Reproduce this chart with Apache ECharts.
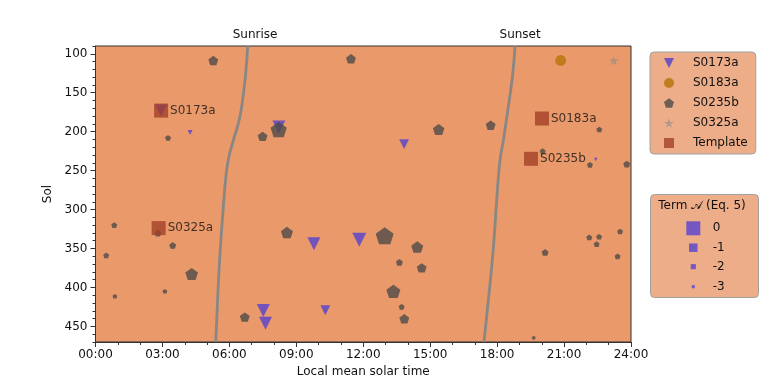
<!DOCTYPE html>
<html>
<head>
<meta charset="utf-8">
<script src="https://cdn.jsdelivr.net/npm/echarts@6/dist/echarts.min.js"></script>
<style>html,body{margin:0;padding:0;background:#fff}#c{width:768px;height:384px}</style>
</head>
<body>
<div id="c"></div>
<script>
// ---- data ----
const xTickLabels = ['00:00','03:00','06:00','09:00','12:00','15:00','18:00','21:00','24:00'];
const yTickValues = [100,150,200,250,300,350,400,450];
const topLabels = ['Sunrise','Sunset'];
const topLabelTimes = [7.15, 19.03];

const sunriseSol  = [90, 125.6, 168.3, 189.5, 210.9, 232.2, 253.5, 296.2, 338.8, 381.3, 424.0, 470];
const sunriseTime = [6.82, 6.73, 6.55, 6.40, 6.18, 5.98, 5.86, 5.73, 5.62, 5.53, 5.46, 5.39];
const sunsetSol   = [90, 125.6, 168.3, 210.9, 232.2, 253.5, 296.2, 338.8, 381.3, 424.0, 470];
const sunsetTime  = [18.80, 18.70, 18.50, 18.28, 18.15, 18.07, 17.96, 17.86, 17.73, 17.58, 17.41];

const s0173aTime = [2.94, 4.24, 8.22, 13.83, 9.79, 11.82, 7.52, 7.62, 10.30, 22.42];
const s0173aSol  = [172.9, 201.0, 193.9, 216.0, 343.9, 338.8, 429.6, 445.8, 429.2, 235.6];
const s0173aTerm = [-0.3, -2.1, -0.15, -0.7, -0.15, 0.0, -0.15, -0.15, -0.7, -2.8];

const s0183aTime = [20.85];
const s0183aSol  = [108.6];
const s0183aTerm = [-0.5];

const s0235bTime = [5.28, 3.25, 7.49, 11.45, 8.21, 15.38, 17.71, 22.58, 20.04, 22.16, 23.81, 22.13, 22.57, 22.46, 23.51, 23.40, 20.15, 19.64, 0.84, 2.80, 3.46, 0.48, 4.31, 0.87, 3.11, 6.69, 8.58, 12.96, 14.42, 13.62, 14.62, 13.35, 13.72, 13.84];
const s0235bSol  = [108.6, 207.9, 206.1, 106.4, 197.2, 197.2, 191.7, 197.2, 224.9, 242.5, 241.6, 335.8, 334.9, 344.3, 328.1, 360.1, 355.0, 464.5, 320.0, 330.2, 346.0, 358.8, 382.6, 411.3, 404.9, 438.1, 329.4, 333.6, 348.1, 367.8, 374.9, 404.9, 424.8, 440.2];
const s0235bTerm = [-0.7, -1.7, -0.7, -0.7, 0.3, -0.4, -0.7, -1.7, -1.7, -1.7, -1.4, -1.7, -1.7, -1.7, -1.7, -1.7, -1.4, -2.5, -1.7, -1.4, -1.4, -1.7, -0.2, -2.1, -2.1, -0.7, -0.3, 0.5, -0.3, -1.4, -0.7, 0.0, -1.7, -0.7];

const s0325aTime = [23.23];
const s0325aSol  = [108.6];
const s0325aTerm = [-0.7];

const templateNames = ['S0173a', 'S0183a', 'S0235b', 'S0325a'];
const templateTime  = [2.94, 20.01, 19.52, 2.83];
const templateSol   = [172.9, 183.1, 234.8, 323.8];

const termLegendValues = [0, -1, -2, -3];
const termLegendLabels = ['0', '-1', '-2', '-3'];

// ---- styling helpers ----
const FONT = 'DejaVu Sans';
const sizeOf = a => 14 * Math.pow(1.65, a);
const TRI = 'path://M0,0L2,0L1,2Z';
const PENT = 'path://M0,-1L0.951,-0.309L0.588,0.809L-0.588,0.809L-0.951,-0.309Z';
const STAR = 'path://M0,-1L0.2245,-0.309L0.951,-0.309L0.3633,0.118L0.588,0.809L0,0.382L-0.588,0.809L-0.3633,0.118L-0.951,-0.309L-0.2245,-0.309Z';
const SQ = 'path://M0,0L1,0L1,1L0,1Z';
const PURPLE = '#6b4fc0';

const zip3 = (t, s, a) => t.map((v, i) => [v, s[i], a[i]]);
const zip2 = (t, s) => t.map((v, i) => [v, s[i]]);

const chart = echarts.init(document.getElementById('c'), null, {renderer: 'canvas'});

// size-legend graphics
const GX = 693.3, TX = 712.7, rowY = [228.3, 247.7, 266.7, 286.7];
const legendGraphics = [
  {type: 'rect', shape: {x: 650.5, y: 194.5, width: 108, height: 103, r: 4},
   style: {fill: '#edad88', stroke: '#a0a0a0', lineWidth: 1}, z: 100},
  {type: 'text', x: 702, y: 206, z: 101,
   style: {text: 'Term \u{1D49C} (Eq. 5)', align: 'center', verticalAlign: 'middle',
           font: '12px "DejaVu Sans", "DejaVu Serif", "Noto Sans", sans-serif', fill: '#111'}}
];
termLegendValues.forEach((a, i) => {
  const s = sizeOf(a);
  legendGraphics.push({type: 'rect', z: 101, shape: {x: GX - s / 2, y: rowY[i] - s / 2, width: s, height: s},
    style: {fill: '#7557c4'}});
  legendGraphics.push({type: 'text', x: TX, y: rowY[i], z: 101,
    style: {text: termLegendLabels[i], align: 'left', verticalAlign: 'middle', font: '12px "DejaVu Sans"', fill: '#111'}});
});

const option = {
  backgroundColor: '#ffffff',
  animation: false,
  textStyle: {fontFamily: FONT},
  grid: {left: 95.5, right: 137, top: 46, bottom: 42, show: true,
         backgroundColor: '#e9996a', borderColor: '#333', borderWidth: 1},
  xAxis: [
    {type: 'value', min: 0, max: 24, interval: 3, position: 'bottom',
     name: 'Local mean solar time', nameLocation: 'middle', nameGap: 24,
     nameTextStyle: {fontFamily: FONT, fontSize: 12, color: '#111'},
     axisLine: {show: true, lineStyle: {color: '#333', width: 1}},
     axisTick: {show: true, length: 5, lineStyle: {color: '#333'}},
     minorTick: {show: true, splitNumber: 3, length: 3, lineStyle: {color: '#333'}},
     splitLine: {show: false},
     axisLabel: {margin: 7, fontFamily: FONT, fontSize: 12, color: '#111',
                 formatter: v => xTickLabels[Math.round(v / 3)]}},
    {type: 'value', min: 0, max: 24, position: 'top',
     axisLine: {show: false}, axisTick: {show: false}, splitLine: {show: false},
     axisLabel: {show: true, margin: 5, fontFamily: FONT, fontSize: 12, color: '#111',
                 customValues: topLabelTimes,
                 formatter: v => topLabels[topLabelTimes.indexOf(v)]}}
  ],
  yAxis: [
    {type: 'value', min: 90, max: 470, inverse: true, position: 'left',
     name: 'Sol', nameLocation: 'middle', nameGap: 41, nameRotate: 90,
     nameTextStyle: {fontFamily: FONT, fontSize: 12, color: '#111'},
     axisLine: {show: true, lineStyle: {color: '#333', width: 1}},
     axisTick: {show: true, length: 5, customValues: yTickValues, lineStyle: {color: '#333'}},
     splitLine: {show: false},
     axisLabel: {margin: 8, fontFamily: FONT, fontSize: 12, color: '#111', customValues: yTickValues}},
    {type: 'value', min: 90, max: 470, interval: 10, inverse: true, position: 'left',
     axisLine: {show: false}, axisLabel: {show: false}, splitLine: {show: false},
     axisTick: {show: true, length: 3, lineStyle: {color: '#333'}}}
  ],
  legend: {
    orient: 'vertical', left: 650, top: 52,
    padding: [5, 8, 5, 14], itemWidth: 10, itemHeight: 10, itemGap: 8,
    backgroundColor: '#edad88', borderColor: '#a0a0a0', borderWidth: 1, borderRadius: 4,
    selectedMode: false, symbolKeepAspect: true,
    textStyle: {fontFamily: FONT, fontSize: 12, color: '#111', padding: [0, 0, 0, 14], lineHeight: 12},
    data: [
      {name: 'S0173a', icon: TRI},
      {name: 'S0183a', icon: 'circle'},
      {name: 'S0235b', icon: PENT},
      {name: 'S0325a', icon: STAR},
      {name: 'Template', icon: SQ}
    ]
  },
  graphic: legendGraphics,
  series: [
    {name: 'sunrise', type: 'line', data: zip2(sunriseTime, sunriseSol), smooth: 0.5,
     showSymbol: false, symbol: 'none', z: 1, silent: true,
     lineStyle: {color: '#8a8684', width: 2.8}},
    {name: 'sunset', type: 'line', data: zip2(sunsetTime, sunsetSol), smooth: 0.5,
     showSymbol: false, symbol: 'none', z: 1, silent: true,
     lineStyle: {color: '#8a8684', width: 2.8}},
    {name: 'S0173a', type: 'scatter', data: zip3(s0173aTime, s0173aSol, s0173aTerm), z: 2,
     symbol: TRI, symbolSize: v => sizeOf(v[2]),
     itemStyle: {color: PURPLE, opacity: 0.95}},
    {name: 'S0183a', type: 'scatter', data: zip3(s0183aTime, s0183aSol, s0183aTerm), z: 3,
     symbol: 'circle', symbolSize: v => sizeOf(v[2]),
     itemStyle: {color: '#b8760f', opacity: 0.85}},
    {name: 'S0235b', type: 'scatter', data: zip3(s0235bTime, s0235bSol, s0235bTerm), z: 4,
     symbol: PENT, symbolKeepAspect: true, symbolSize: v => sizeOf(v[2]),
     itemStyle: {color: '#4f4a47', opacity: 0.8}},
    {name: 'S0325a', type: 'scatter', data: zip3(s0325aTime, s0325aSol, s0325aTerm), z: 5,
     symbol: STAR, symbolKeepAspect: true, symbolSize: v => sizeOf(v[2]),
     itemStyle: {color: '#8c8a8a', opacity: 0.6}},
    {name: 'Template', type: 'scatter', data: zip2(templateTime, templateSol), z: 6,
     symbol: SQ, symbolKeepAspect: true, symbolSize: 14,
     itemStyle: {color: '#a23e26', opacity: 0.78},
     label: {show: true, position: 'right', distance: 2, fontFamily: FONT, fontSize: 12, color: '#111',
             formatter: p => templateNames[p.dataIndex]}}
  ]
};
chart.setOption(option);
</script>
</body>
</html>
